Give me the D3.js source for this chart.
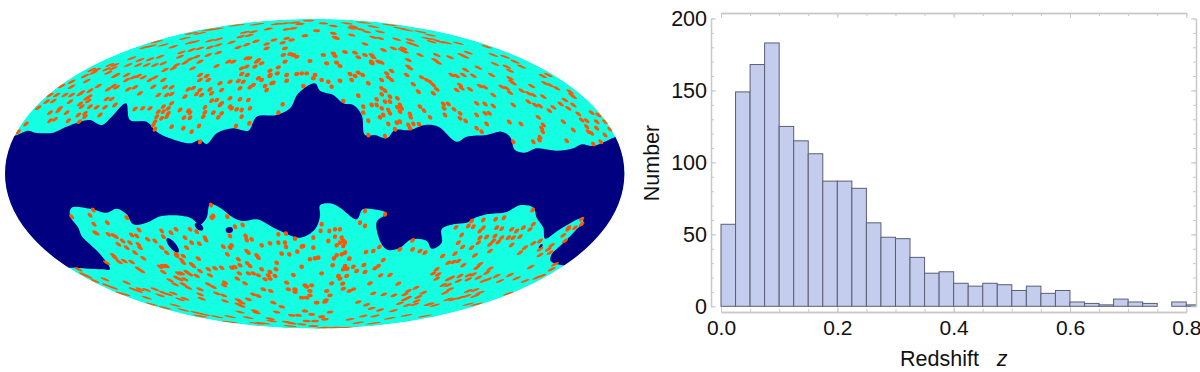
<!DOCTYPE html>
<html><head><meta charset="utf-8">
<script src="https://cdn.jsdelivr.net/npm/d3@7"></script>
<style>html,body{margin:0;padding:0;background:#fff}svg{display:block}text{font-family:"Liberation Sans",Arial,sans-serif;fill:#111}</style>
</head><body><div id="c"></div>
<script>
// Histogram data
const binWidth=0.025;
const counts=[57,149,168,183,125,115,106,87,87,82,58,48,47,34,23,24,16,14,16,15,11,14,9,11,3,2,1,5,3,2,0,3,1];
const xTickValues=[0,0.2,0.4,0.6,0.8];
const yTickValues=[0,50,100,150,200];
const xLabel="Redshift";
const xLabelVar="z";
const yLabel="Number";

// Sky map: values read per quadrant on a 960 x 558 grid (flat x,y lists)
const maskUpperNW=[0,408,40,408,85,392,105,398,160,398,195,382,240,365,270,360,305,375,335,350,378,310,390,360,440,365,470,395,510,415,570,430,600,420,620,432,650,400,700,385,745,392,770,350,830,345,870,325,895,280,945,250];
const maskUpperNE=[0,272,40,285,70,310,100,315,125,345,135,405,165,405,200,415,225,390,270,390,315,375,355,380,410,425,440,410,500,405,545,395,570,410,585,450,615,458,650,445,710,452,760,445,785,433,820,438,885,412,960,390];
const maskLowerSW=[0,245,210,245,305,250,330,250,305,210,270,175,245,150,235,125,210,90,215,65,270,68,320,80,350,68,380,85,400,115,440,110,485,90,570,95,600,115,620,95,630,55,660,65,700,95,730,105,770,100,830,130,900,155,945,130,960,90];
const maskLowerSE=[0,58,30,52,60,65,110,100,128,70,160,70,200,82,170,108,185,175,205,192,240,185,275,160,320,165,335,188,365,170,365,130,400,115,440,110,460,98,500,85,560,78,600,58,640,65,650,95,670,125,675,158,720,130,785,97,790,105,760,140,720,180,695,205,692,225,728,238,800,240,960,240];
const holesSW=[[518,178,27,10,50],[597,122,15,9,40],[688,132,11,9,-10]];
const holesSE=[[662,181,8,4,-50]];
const dotsNW=[710,76,770,73,830,72,855,70,885,68,925,62,950,92,805,87,860,88,880,85,900,72,625,90,650,87,600,100,575,100,735,97,760,95,722,110,748,106,915,107,555,115,570,128,585,125,630,122,655,118,695,127,715,142,740,134,768,124,800,132,822,120,848,128,875,120,860,115,470,125,435,142,455,138,490,135,520,140,545,157,575,150,600,145,630,142,655,135,655,158,625,165,590,170,570,178,800,145,855,145,850,165,870,162,890,170,930,183,395,175,420,180,450,178,480,170,540,170,555,188,600,185,700,185,685,185,330,195,340,205,320,208,345,195,290,210,275,210,385,195,415,195,440,195,465,195,490,190,530,195,775,180,785,190,765,200,770,185,740,175,748,175,725,205,740,200,650,198,578,205,810,212,835,202,855,185,880,165,495,210,520,205,255,228,280,218,325,218,345,228,380,225,350,225,415,228,430,232,450,240,465,232,725,222,742,225,810,225,832,220,810,228,905,220,920,220,890,222,945,225,940,235,860,225,600,225,620,228,625,240,600,240,775,235,785,240,860,242,215,245,215,260,260,243,380,240,400,232,490,240,660,250,690,245,715,243,730,245,760,255,815,250,795,258,910,258,820,248,340,258,350,262,325,268,295,258,385,268,405,262,460,260,515,262,495,262,565,268,580,264,600,270,665,270,630,268,720,265,750,262,800,270,185,258,270,272,215,285,240,282,245,278,420,280,475,285,500,285,515,282,590,282,605,285,635,280,150,285,170,285,195,285,260,295,268,290,320,297,335,297,555,290,635,302,650,300,690,295,720,298,745,300,140,305,160,303,210,305,240,312,265,303,490,320,505,325,475,335,490,335,505,340,470,350,485,355,500,350,465,365,460,375,515,310,405,327,428,325,450,325,115,323,180,325,245,320,270,320,290,322,315,322,345,315,540,330,565,332,570,338,615,322,665,310,660,315,690,320,695,325,710,328,750,325,725,330,848,313,150,338,175,332,200,338,235,345,255,340,255,350,300,345,615,337,640,338,665,340,655,352,610,350,552,353,570,353,725,350,835,338,515,380,550,385,597,378,150,362,165,358,205,362,238,365,708,378,748,370,600,425,465,388,575,395,78,372,55,395];
const dotsNE=[10,70,40,78,80,70,100,80,130,68,160,80,210,75,240,85,260,90,300,95,330,105,120,88,95,85,180,95,140,95,160,112,180,115,95,105,40,100,45,112,50,115,230,118,270,120,270,130,285,135,320,115,345,120,360,125,380,128,335,125,415,130,135,132,190,150,220,145,245,150,255,155,250,145,300,165,350,165,390,172,425,165,435,170,445,158,500,140,520,165,555,170,585,185,605,200,10,165,40,160,75,156,105,158,135,165,155,165,160,172,45,168,115,172,50,188,20,190,155,185,155,190,175,185,185,188,60,198,265,180,345,180,355,188,265,200,270,205,525,192,560,200,570,212,200,220,215,213,90,222,115,218,128,225,105,228,205,232,215,240,260,225,305,232,395,225,410,228,437,210,430,225,460,227,475,203,515,225,570,235,575,245,580,250,668,228,685,225,60,242,95,240,185,240,145,250,280,253,320,240,330,245,340,255,480,258,495,262,420,255,425,265,410,270,450,268,545,260,560,265,605,272,635,258,675,250,690,255,710,265,25,245,5,240,35,260,185,265,195,272,295,275,350,268,340,280,570,278,520,285,625,280,640,285,670,290,750,275,755,285,760,290,735,300,115,287,185,283,170,298,210,290,232,295,195,305,155,315,130,320,210,305,240,315,245,325,232,322,370,312,385,312,470,310,495,312,520,318,580,315,625,305,645,315,660,318,700,322,722,312,745,325,760,315,70,303,170,315,185,325,205,330,210,340,190,345,180,352,240,335,300,320,312,332,372,325,402,328,420,340,470,345,495,340,508,340,655,352,688,332,775,342,815,338,835,345,130,338,270,342,272,352,330,352,375,345,145,362,205,372,230,368,240,365,265,375,270,385,280,372,297,373,420,355,437,363,470,385,500,372,568,366,603,372,730,365,785,360,800,362,830,365,855,365,225,388,145,405,195,408,485,395,670,375,665,385,668,395,760,390,800,380,805,395,830,385,815,400,855,405,870,388,660,412,658,420,640,425,740,422,820,432,842,425,580,425];
const dotsSW=[280,72,215,92,270,88,322,110,380,95,282,115,285,140,290,142,417,132,485,135,513,140,528,130,570,130,590,137,635,95,640,90,633,57,682,92,705,122,728,117,690,150,737,150,740,162,755,160,325,145,340,148,348,152,395,147,410,150,443,160,465,165,490,152,555,155,575,170,598,173,615,155,618,162,835,145,858,143,885,158,940,155,355,175,368,165,380,185,415,175,420,185,390,170,485,185,500,200,560,185,530,205,550,210,670,182,695,178,690,185,682,205,740,195,745,200,785,178,810,172,835,170,855,170,858,183,905,182,910,180,940,185,770,208,775,215,845,203,868,205,892,197,405,200,430,217,340,208,345,215,373,225,358,228,395,228,320,230,545,222,550,230,595,218,575,235,580,240,530,210,715,220,742,232,750,240,830,230,930,220,945,217,955,215,490,240,500,240,480,242,490,258,415,248,425,255,625,250,645,247,665,245,695,245,705,243,720,238,785,250,828,250,905,242,560,258,600,255,535,262,545,262,570,265,530,275,590,270,630,268,718,262,745,262,760,262,775,268,810,258,805,268,825,270,810,278,880,267,795,280,712,278,555,280,540,280,510,283,525,295,550,295,315,280,380,290,235,250,250,265,265,272,285,285,625,295,640,303,675,290,672,298,735,292,860,290,915,298,935,298,920,302,565,305,790,310,812,315,865,310,885,310,885,318,930,315,320,298,340,305,400,310,420,310,440,312,465,310,490,320,505,325,520,322,480,328,415,315,600,310,650,322,670,328,600,325,605,338,760,325,775,330,930,328,905,335,920,335,950,350,360,322,375,325,440,335,455,355,540,340,555,338,675,345,715,342,725,350,745,340,820,350,715,355,725,360,845,362,525,358,495,365,550,372,720,378,765,375,770,380,830,378,875,388,915,375,935,385,895,388,590,380,610,385,650,392,690,392,745,395,810,398,815,405,790,412,770,412,860,408,875,412,870,420,920,405,945,405,905,415,940,420,690,408,600,390];
const dotsSE=[135,75,195,85,120,110,135,120,5,115,28,135,45,130,60,130,2,135,45,152,65,155,70,165,60,170,75,170,50,178,70,180,25,165,138,198,160,195,178,183,240,190,278,163,278,190,300,195,315,200,65,205,75,200,50,208,88,218,42,217,190,222,38,238,75,240,82,248,100,242,70,250,132,237,165,247,175,240,110,255,135,258,5,262,55,270,60,278,80,270,182,268,210,267,35,292,68,293,150,292,235,293,70,308,100,310,88,315,20,315,30,328,18,342,15,348,288,305,265,315,255,325,310,320,295,333,160,322,192,325,222,328,265,335,255,340,115,348,290,345,240,352,262,358,140,356,285,355,30,378,5,392,15,400,90,400,130,390,155,367,180,372,220,374,165,390,260,388,210,397,115,410,160,412,315,390,325,355,345,358,408,124,425,147,445,120,455,105,460,122,490,102,490,125,480,135,527,100,552,95,530,125,545,128,575,130,590,135,610,125,640,115,638,72,630,130,600,152,580,155,565,155,545,155,525,150,500,153,480,155,520,165,510,175,535,168,475,170,455,185,415,170,428,183,368,210,405,203,465,208,510,195,575,177,600,200,615,185,640,172,660,165,660,190,660,207,695,178,685,190,690,200,735,165,730,148,745,130,765,125,785,115,785,100,745,125,385,230,415,225,430,238,400,228,480,235,470,245,510,248,500,260,350,250,340,262,355,265,350,278,395,275,385,280,420,270,415,285,445,268,460,265,445,280,475,275,490,285,505,280,530,270,540,285,570,267,590,277,615,285,632,243,650,275,665,270,695,250,705,235,370,297,385,297,390,310,375,320,445,315,465,312,480,320,465,330,440,330,420,335,400,340,385,340,445,355,470,355,565,323,330,355,10,425,35,425,60,425,75,425];

const colors={galaxy:"#FF5500",sky:"#14FFE2",mask:"#000080",bar:"#C5CDEE",barEdge:"#5A5F72",frame:"#C9C9C9"};

const svg=d3.select("#c").append("svg").attr("width",1200).attr("height",372);

// ---- sky map ----
const sky={cx:314.7,cy:173.7,rx:309.7,ry:155};
const xGrid=d3.scaleLinear().domain([0,960]).range([0,320]);
const yGrid=d3.scaleLinear().domain([0,558]).range([0,186]);
const pairs=(a,q)=>d3.range(0,a.length,2).map(i=>[xGrid(a[i])+(q===1||q===3?320:0),yGrid(a[i+1])+(q>=2?186:0)]);
const defs=svg.append("defs");
defs.append("clipPath").attr("id","skyClip").append("ellipse").attr("cx",sky.cx).attr("cy",sky.cy).attr("rx",sky.rx).attr("ry",sky.ry);
const map=svg.append("g").attr("clip-path","url(#skyClip)");
map.append("ellipse").attr("cx",sky.cx).attr("cy",sky.cy).attr("rx",sky.rx).attr("ry",sky.ry).attr("fill",colors.sky);
const upper=[...pairs(maskUpperNW,0),...pairs(maskUpperNE,1)];
const lower=[...pairs(maskLowerSW,2),...pairs(maskLowerSE,3)].reverse();
const smooth=d3.line().curve(d3.curveCatmullRom.alpha(0.5));
const bandPath=smooth(upper)+"L"+smooth(lower).slice(1)+"Z";
map.append("path").attr("d",bandPath).attr("fill",colors.mask);
const holes=[...holesSW.map(h=>({h,q:2})),...holesSE.map(h=>({h,q:3}))];
map.selectAll("ellipse.hole").data(holes).join("ellipse").attr("class","hole")
  .attr("rx",d=>xGrid(d.h[2])).attr("ry",d=>yGrid(d.h[3])).attr("fill",colors.mask)
  .attr("transform",d=>{const [p]=pairs([d.h[0],d.h[1]],d.q);return `translate(${p[0]},${p[1]}) rotate(${d.h[4]})`;});
// Mollweide distortion of a small circle on the sky
function dotMatrix(p){
  const mx=p[0]-sky.cx, my=(sky.cy-p[1])/sky.ry;
  const s=Math.max(-0.998,Math.min(0.998,my)), th=Math.asin(s), c=Math.cos(th);
  const phi=Math.asin(Math.max(-0.99999,Math.min(0.99999,(2*th+Math.sin(2*th))/Math.PI))), cp=Math.cos(phi);
  const dth=Math.PI*cp/(4*c*c);
  const a=sky.rx*c/(Math.PI*cp);
  const cx=-mx*Math.tan(th)*dth;
  const d=-sky.ry*c*dth;
  return `matrix(${a} 0 ${cx} ${d} ${p[0]} ${p[1]})`;
}
const dots=[...pairs(dotsNW,0),...pairs(dotsNE,1),...pairs(dotsSW,2),...pairs(dotsSE,3)];
map.selectAll("circle.d").data(dots).join("circle").attr("class","d").attr("r",0.021).attr("fill",colors.galaxy).attr("transform",dotMatrix);

// ---- histogram ----
const frame={l:711,r:1196,t:13,b:312};
const x=d3.scaleLinear().domain([0,0.8]).range([721,1186.3]);
const y=d3.scaleLinear().domain([0,200]).range([306.3,18.5]);
defs.append("clipPath").attr("id","plotClip").append("rect").attr("x",frame.l).attr("y",frame.t).attr("width",frame.r-frame.l).attr("height",frame.b-frame.t);
svg.append("g").attr("clip-path","url(#plotClip)").selectAll("rect").data(counts.map((c,i)=>({c,i})).filter(d=>d.c>0)).join("rect")
  .attr("x",d=>x(d.i*binWidth)).attr("width",d=>x((d.i+1)*binWidth)-x(d.i*binWidth))
  .attr("y",d=>y(d.c)).attr("height",d=>y(0)-y(d.c))
  .attr("fill",colors.bar).attr("stroke",colors.barEdge).attr("stroke-width",1);

const xMinor=d3.range(0,0.8001,0.05);
const yMinor=d3.range(0,200.1,10);
function styleAxis(g){g.select(".domain").attr("stroke",colors.frame).attr("stroke-width",1.3);g.selectAll(".tick line").attr("stroke",colors.frame).attr("stroke-width",1);}
function place(axisGen,tx,ty,major,minor,inward,labels){
  const gm=svg.append("g").attr("transform",`translate(${tx},${ty})`).call(axisGen.tickValues(minor).tickSize(inward*0.6).tickSizeOuter(0).tickFormat("")).call(styleAxis);
  gm.selectAll(".tick text").remove();
  return svg.append("g").attr("transform",`translate(${tx},${ty})`).call(axisGen.tickValues(major).tickSize(inward).tickSizeOuter(0).tickFormat(labels)).call(styleAxis);
}
const tickFont=21;
const gb=place(d3.axisBottom(x),0,frame.b,xTickValues,xMinor,-5,d3.format(".1f"));
gb.selectAll("text").attr("font-size",tickFont).attr("y",8).attr("dy","0.71em").attr("font-family","Liberation Sans");
place(d3.axisTop(x),0,frame.t,xTickValues,xMinor,-5,()=> "");
const gl=place(d3.axisLeft(y),frame.l,0,yTickValues,yMinor,-5,d3.format("d"));
gl.selectAll("text").attr("font-size",tickFont+0.5).attr("x",-4).attr("font-family","Liberation Sans");
place(d3.axisRight(y),frame.r,0,yTickValues,yMinor,-5,()=> "");
svg.selectAll("g text").attr("fill","#111");

const xl=svg.append("text").attr("x",900).attr("y",366).attr("text-anchor","start").attr("font-size",21.5);
xl.append("tspan").text(xLabel+"\u00A0\u00A0\u00A0");
xl.append("tspan").attr("font-style","italic").text(xLabelVar);
svg.append("text").attr("transform","translate(659,163) rotate(-90)").attr("text-anchor","middle").attr("font-size",21.5).text(yLabel);
</script></body></html>
